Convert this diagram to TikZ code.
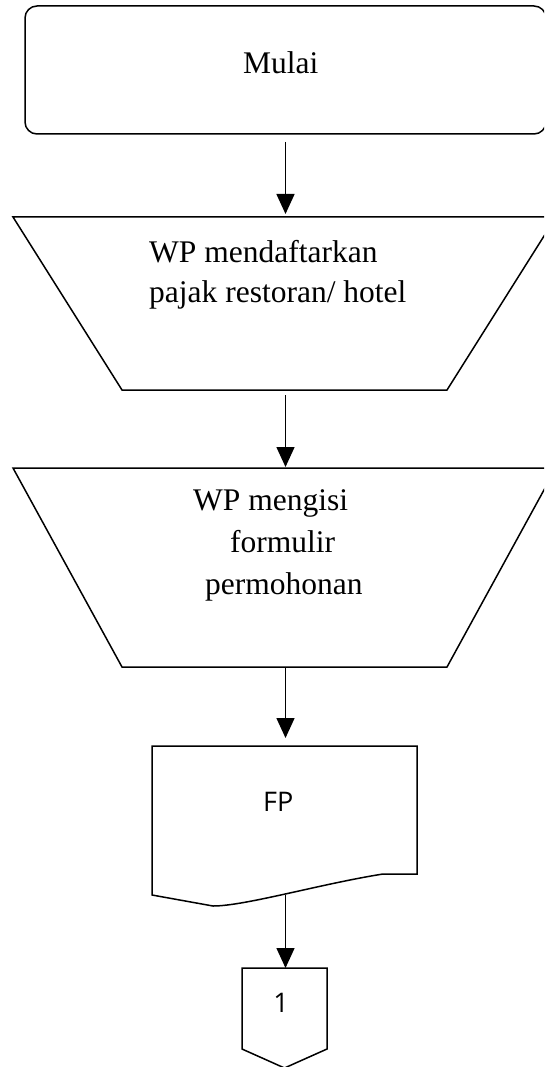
\documentclass[tikz,border=0pt]{standalone}
\usepackage{fontspec}
\setmainfont{Liberation Serif}
\newfontfamily\labelsans{Open Sans}
\usetikzlibrary{arrows.meta}

\tikzset{
  shapeline/.style={draw=black, line width=1.5pt, line join=miter},
  flowarrow/.style={draw=black, line width=1.5pt,
    -{Triangle[length=20pt,width=18pt]}},
  serifbody/.style={inner sep=0pt, font=\fontsize{31.5}{42}\selectfont},
  sansbody/.style={inner sep=0pt, font=\labelsans\fontsize{27}{32}\selectfont},
}

\begin{document}
\begin{tikzpicture}[x=1pt,y=-1pt]
  \useasboundingbox (0,0) rectangle (544,1067);
  \clip (0,0) rectangle (544,1067);

  % start terminal
  \draw[shapeline, rounded corners=12pt] (25,6) rectangle (546,134);
  \coordinate (startS) at (285.5,134);
  \node[serifbody, anchor=base west] (tstart) at (243,74) {Mulai};

  % manual operation: registration
  \draw[shapeline] (13,217) -- (556,217) -- (447,390) -- (122,390) -- cycle;
  \coordinate (daftarN) at (285.5,217);
  \coordinate (daftarS) at (285.5,390);
  \node[serifbody, anchor=base west] (tdaftar1) at (149,262) {WP mendaftarkan};
  \node[serifbody, anchor=base west] (tdaftar2) at (149,302) {pajak restoran/ hotel};

  % manual operation: filling in the form
  \draw[shapeline] (13,468) -- (556,468) -- (447,667) -- (122,667) -- cycle;
  \coordinate (isiN) at (285.5,468);
  \coordinate (isiS) at (285.5,667);
  \node[serifbody, anchor=base west] (tisi1) at (193,510) {WP mengisi};
  \node[serifbody, anchor=base west] (tisi2) at (230,552) {formulir};
  \node[serifbody, anchor=base west] (tisi3) at (205,594) {permohonan};

  % document FP
  \draw[shapeline] (152,746) -- (417,746) -- (417,874) -- (383,874)
    .. controls (320,884) and (245,906) .. (213,906) -- (152,895) -- cycle;
  \coordinate (docN) at (285.5,746);
  \coordinate (docS) at (285.5,895);
  \node[sansbody, anchor=base west] (tdoc) at (263,811) {FP};

  % off-page connector
  \draw[shapeline] (242,968) -- (327,968) -- (327,1049) -- (284.5,1068)
    -- (242,1049) -- cycle;
  \coordinate (offN) at (285.5,968);
  \node[sansbody, anchor=base] (toff) at (281,1012.5) {1};

  % flow connectors
  \draw[flowarrow, shorten <=8pt, shorten >=3pt] (startS) -- (daftarN);
  \draw[flowarrow, shorten <=5pt, shorten >=1pt] (daftarS) -- (isiN);
  \draw[flowarrow, shorten >=8pt] (isiS) -- (docN);
  \draw[flowarrow] (docS) -- (offN);
\end{tikzpicture}
\end{document}
